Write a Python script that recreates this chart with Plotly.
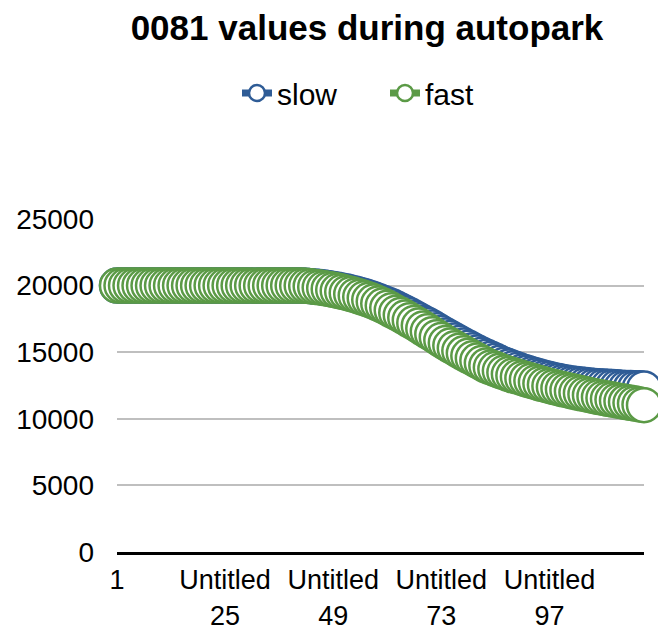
import plotly.graph_objects as go

n_points = 118
categories = ["1"] + ["Untitled %d" % i for i in range(2, n_points + 1)]

slow = [20000] * 41 + [
    20000, 19990, 19960, 19930, 19890, 19850, 19800, 19740, 19680, 19620,
    19550, 19470, 19380, 19290, 19200, 19090, 18970, 18850, 18720, 18590,
    18450, 18290, 18120, 17950, 17770, 17590, 17400, 17220, 17040, 16850,
    16650, 16450, 16250, 16070, 15880, 15700, 15510, 15330, 15150, 14980,
    14810, 14650, 14500, 14350, 14200, 14060, 13930, 13800, 13680, 13560,
    13450, 13350, 13250, 13150, 13060, 12980, 12900, 12830, 12760, 12700,
    12650, 12610, 12570, 12530, 12500, 12470, 12440, 12420, 12400, 12380,
    12360, 12340, 12320, 12310, 12300, 12290, 12280,
]

fast = [20000] * 41 + [
    20000, 19980, 19950, 19900, 19860, 19810, 19750, 19680, 19610, 19530,
    19450, 19360, 19260, 19160, 19050, 18930, 18800, 18650, 18500, 18330,
    18150, 17970, 17790, 17600, 17400, 17200, 17000, 16780, 16570, 16350,
    16130, 15910, 15700, 15500, 15300, 15100, 14920, 14730, 14550, 14370,
    14180, 14000, 13860, 13730, 13600, 13480, 13360, 13250, 13150, 13050,
    12950, 12850, 12750, 12650, 12560, 12470, 12380, 12300, 12220, 12150,
    12070, 11990, 11920, 11850, 11770, 11700, 11630, 11570, 11500, 11440,
    11380, 11320, 11260, 11200, 11150, 11080, 11020,
]

tick_cats = ["1", "Untitled 25", "Untitled 49", "Untitled 73", "Untitled 97"]
tick_text = ["1", "Untitled<br>25", "Untitled<br>49", "Untitled<br>73", "Untitled<br>97"]
y_ticks = [0, 5000, 10000, 15000, 20000, 25000]
y_tick_text = ["0", "5000", "10000", "15000", "20000", "25000"]

BLUE = "#2F5C96"
GREEN = "#5B9A46"
FONT = "Liberation Sans, Arial, sans-serif"

fig = go.Figure()
for name, vals, col in [("slow", slow, BLUE), ("fast", fast, GREEN)]:
    fig.add_trace(go.Scatter(
        x=categories, y=vals, name=name, mode="lines+markers",
        line=dict(color=col, width=7),
        marker=dict(symbol="circle", size=34, color="white",
                    line=dict(color=col, width=2.5)),
        cliponaxis=False,
    ))

fig.update_layout(
    width=658, height=633,
    margin=dict(l=117, r=14, t=219, b=81, autoexpand=False),
    paper_bgcolor="white", plot_bgcolor="white",
    font=dict(family=FONT, size=28, color="black"),
    title=dict(text="<b>0081 values during autopark</b>",
               font=dict(family=FONT, size=35, color="black"),
               x=367 / 658, xanchor="center", xref="container",
               y=1 - 28 / 633, yanchor="middle", yref="container"),
    legend=dict(orientation="h", x=385 / 658, xanchor="center", xref="container",
                y=1 - 93 / 633, yanchor="middle", yref="container",
                font=dict(family=FONT, size=30, color="black"),
                itemsizing="trace", itemwidth=30, entrywidth=103,
                bgcolor="rgba(0,0,0,0)"),
    showlegend=True,
)
fig.update_xaxes(
    type="category", categoryorder="array", categoryarray=categories,
    range=[0, n_points - 1], automargin=False,
    tickmode="array", tickvals=tick_cats, ticktext=tick_text, tickangle=0,
    showgrid=False, showline=True, linecolor="black", linewidth=3,
    ticks="", ticklabelstandoff=2, zeroline=False,
    tickfont=dict(family=FONT, size=27, color="black"),
)
fig.update_yaxes(
    range=[0, 25000], tickmode="array", tickvals=y_ticks, ticktext=y_tick_text,
    automargin=False,
    showgrid=True, gridcolor="#BFBFBF", gridwidth=2,
    zeroline=False, showline=False, ticks="",
    ticklabelstandoff=22,
    tickfont=dict(family=FONT, size=28, color="black"),
)

fig.write_html(
    "out.html",
    config={"responsive": False, "displayModeBar": False},
    post_script="document.body.style.margin='0';document.body.style.overflow='hidden';",
)
